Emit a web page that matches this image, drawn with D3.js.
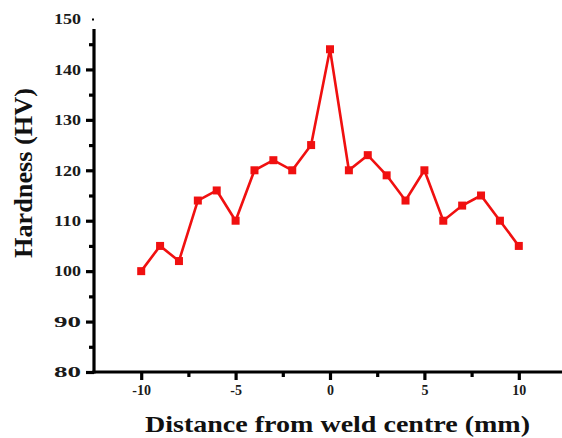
<!DOCTYPE html>
<html><head><meta charset="utf-8">
<script src="https://cdn.jsdelivr.net/npm/d3@7"></script>
<style>body{margin:0;background:#fff}svg{display:block}</style>
</head><body>
<svg id="c" width="562" height="438"></svg>
<script>
const distance = [-10,-9,-8,-7,-6,-5,-4,-3,-2,-1,0,1,2,3,4,5,6,7,8,9,10];
const hardness = [100,105,102,114,116,110,120,122,120,125,144,120,123,119,114,120,110,113,115,110,105];
const xTicks = [-10,-5,0,5,10];
const yTicks = [80,90,100,110,120,130,140,150];

const svg = d3.select("#c");
const x = d3.scaleLinear().domain([-12.5,12.5]).range([94,566]);
const y = d3.scaleLinear().domain([80,150]).range([372,19]);
const font = "'Liberation Serif','Times New Roman',serif";

// minor ticks
const gMinorY = svg.append("g").attr("transform","translate(94,0)")
  .call(d3.axisLeft(y).tickValues(d3.range(85,150,10)).tickSize(5).tickFormat(""));
gMinorY.select(".domain").remove();
gMinorY.selectAll("line").attr("stroke","#000").attr("stroke-width",3.2);

const gMinorX = svg.append("g").attr("transform","translate(0,372)")
  .call(d3.axisBottom(x).tickValues([-7.5,-2.5,2.5,7.5]).tickSize(5).tickFormat(""));
gMinorX.select(".domain").remove();
gMinorX.selectAll("line").attr("stroke","#000").attr("stroke-width",3.2);

// major y axis
const gy = svg.append("g").attr("transform","translate(94,0)")
  .call(d3.axisLeft(y).tickValues(yTicks).tickSize(8).tickPadding(5).tickFormat(d=>String(d)));
gy.select(".domain").attr("d",`M0,${y(148)}V${y(80)+1.6}`).attr("stroke","#000").attr("stroke-width",3.2);
gy.selectAll("line").attr("stroke","#000").attr("stroke-width",3.2);
gy.selectAll(".tick").filter(d=>d===150).select("line").attr("x2",-2).attr("stroke-width",2);
gy.selectAll("text").attr("font-family",font).attr("font-weight","bold").attr("font-size",15)
  .attr("fill","#1a1a1a").attr("textLength",27).attr("lengthAdjust","spacingAndGlyphs");

// major x axis
const gx = svg.append("g").attr("transform","translate(0,372)")
  .call(d3.axisBottom(x).tickValues(xTicks).tickSize(8).tickPadding(5).tickFormat(d=>String(d)));
gx.select(".domain").attr("d",`M${94-1.6},0H566`).attr("stroke","#000").attr("stroke-width",3.2);
gx.selectAll("line").attr("stroke","#000").attr("stroke-width",3.2);
gx.selectAll("text").attr("font-family",font).attr("font-weight","bold").attr("font-size",14).attr("fill","#1a1a1a");

// line
const line = d3.line().x((d,i)=>x(distance[i])).y(d=>y(d));
svg.append("path").datum(hardness).attr("d",line)
  .attr("fill","none").attr("stroke","#f01010").attr("stroke-width",2.6).attr("stroke-linejoin","miter");
svg.selectAll("rect.m").data(hardness).join("rect").attr("class","m")
  .attr("x",(d,i)=>x(distance[i])-4).attr("y",d=>y(d)-4).attr("width",8).attr("height",8)
  .attr("fill","#f01010");

// labels
svg.append("text").attr("x",145).attr("y",432).attr("text-anchor","start")
  .attr("font-family",font).attr("font-weight","bold").attr("font-size",24).attr("fill","#111")
  .attr("textLength",385).attr("lengthAdjust","spacingAndGlyphs")
  .text("Distance from weld centre (mm)");
svg.append("text").attr("transform","translate(32,258) rotate(-90)").attr("text-anchor","start")
  .attr("font-family",font).attr("font-weight","bold").attr("font-size",25).attr("fill","#111")
  .attr("textLength",170).attr("lengthAdjust","spacingAndGlyphs")
  .text("Hardness (HV)");
</script>
</body></html>
